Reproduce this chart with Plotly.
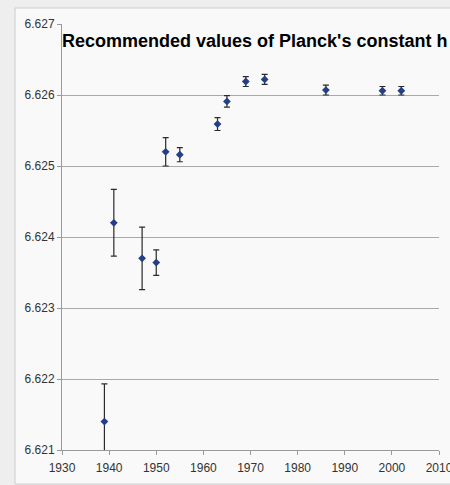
import plotly.graph_objects as go

years = [1939, 1941, 1947, 1950, 1952, 1955, 1963, 1965, 1969, 1973, 1986, 1998, 2002]
h_values = [6.62140, 6.62420, 6.62370, 6.62364, 6.62520, 6.62516, 6.62559, 6.62591,
            6.62619, 6.62622, 6.62607, 6.62606, 6.62606]
h_errors = [0.00053, 0.00047, 0.00044, 0.00018, 0.00020, 0.00010, 0.00009, 0.00008,
            0.00007, 0.00007, 0.00007, 0.00006, 0.00006]
x_ticks = [1930, 1940, 1950, 1960, 1970, 1980, 1990, 2000, 2010]
y_ticks = [6.621, 6.622, 6.623, 6.624, 6.625, 6.626, 6.627]
title_text = "Recommended values of Planck's constant h"

fig = go.Figure()
fig.add_trace(go.Scatter(
    x=years, y=h_values, mode="markers",
    marker=dict(symbol="diamond", size=6, color="#253f86"),
    error_y=dict(type="data", array=h_errors, visible=True,
                 color="#2a2a2a", thickness=1.2, width=3),
    showlegend=False,
))

W, H = 450, 485
L, R, T, B = 62, 11, 24, 35
PW, PH = W - L - R, H - T - B

fig.update_layout(
    width=W, height=H,
    margin=dict(l=L, r=R, t=T, b=B),
    paper_bgcolor="#eeeeee",
    plot_bgcolor="rgba(0,0,0,0)",
    font=dict(family="Liberation Sans, Arial, sans-serif", size=12, color="#333333"),
    xaxis=dict(range=[1930, 2010], tickvals=x_ticks, ticktext=[str(v) for v in x_ticks],
               showgrid=False, zeroline=False, showline=True, linecolor="#9a9a9a",
               linewidth=1, ticks="outside", ticklen=4, tickcolor="#9a9a9a",
               automargin=False, ticklabeloverflow="allow", ticklabelstandoff=3,
               tickfont=dict(size=12, color="#333333")),
    yaxis=dict(range=[6.621, 6.627], tickvals=y_ticks, tickformat=".3f",
               showgrid=True, gridcolor="#a9a9a9", gridwidth=1, zeroline=False,
               showline=True, linecolor="#9a9a9a", linewidth=1, ticks="outside",
               ticklen=4, tickcolor="#9a9a9a", automargin=False,
               tickfont=dict(size=12, color="#333333")),
    shapes=[dict(type="rect", xref="paper", yref="paper",
                 x0=(15 - L) / PW, x1=(470 - L) / PW,
                 y0=(H - B - 484) / PH, y1=(H - B - 8) / PH,
                 fillcolor="#f9f9f9", line=dict(color="#cccccc", width=1), layer="below")],
    annotations=[dict(text="<b>" + title_text + "</b>", xref="paper", yref="paper",
                      x=0, y=1 - (41 - T) / PH, xanchor="left", yanchor="middle",
                      xshift=-2, showarrow=False,
                      font=dict(family="Liberation Sans, Arial, sans-serif", size=18, color="#000000"))],
)

fig.write_html("out.html", config={"displayModeBar": False},
               post_script="document.body.style.margin='0';")
